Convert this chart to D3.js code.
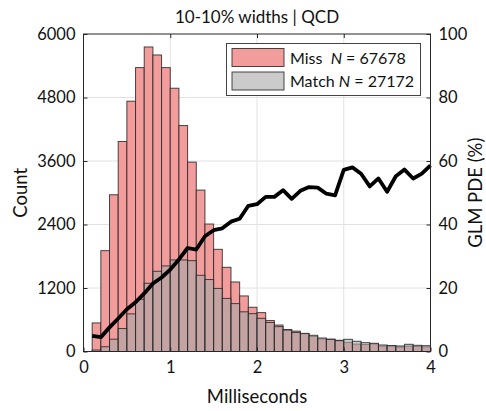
<!DOCTYPE html>
<html>
<head>
<meta charset="utf-8">
<script src="https://cdn.jsdelivr.net/npm/d3@7"></script>
<style>
  html, body { margin: 0; padding: 0; background: #fff; }
  svg { display: block; font-family: Lato, "Noto Sans", sans-serif; }
</style>
</head>
<body>
<svg id="chart" width="486" height="411"></svg>
<script>
// Histogram bins (left edges, ms), each 0.1 ms wide
const binLeft = [0.1,0.2,0.3,0.4,0.5,0.6,0.7,0.8,0.9,1.0,
                 1.1,1.2,1.3,1.4,1.5,1.6,1.7,1.8,1.9,2.0,
                 2.1,2.2,2.3,2.4,2.5,2.6,2.7,2.8,2.9,3.0,
                 3.1,3.2,3.3,3.4,3.5,3.6,3.7,3.8,3.9];
const binWidth = 0.1;

// Counts per bin
const missCounts = [540,1906,2962,3969,4730,5365,5755,5604,5365,4975,
                    4270,3579,3050,2409,1931,1591,1314,1050,836,735,
                    585,500,415,385,335,285,239,233,212,172,
                    140,131,143,102,109,84,101,97,87];
const matchCounts = [28,90,233,434,711,987,1289,1516,1617,1730,
                     1730,1717,1440,1360,1192,1003,905,750,715,627,
                     548,470,406,360,343,306,255,230,205,230,
                     193,167,155,123,110,104,136,117,110];

// GLM PDE (%) curve
const pdeX = [0.1,0.2,0.3,0.4,0.5,0.6,0.7,0.8,0.9,1.0,
              1.1,1.2,1.3,1.4,1.5,1.6,1.7,1.8,1.9,2.0,
              2.1,2.2,2.3,2.4,2.5,2.6,2.7,2.8,2.9,3.0,
              3.1,3.2,3.3,3.4,3.5,3.6,3.7,3.8,3.9,4.0];
const pdeY = [4.9,4.5,7.6,10.4,13.3,15.5,18.3,21.4,23.3,25.8,
              29.0,32.6,32.1,36.3,38.2,38.8,40.9,41.8,45.9,46.4,
              48.7,48.7,50.8,48.1,50.6,51.8,51.6,49.7,49.2,57.2,
              58.0,56.0,52.0,54.5,50.3,55.2,57.3,54.5,56.0,58.6];

// Axis ticks
const xTicks = [0,1,2,3,4];
const yLeftTicks = [0,1200,2400,3600,4800,6000];
const yRightTicks = [0,20,40,60,80,100];

const legendItems = [
  {name: "Miss", sep: "\u00a0\u00a0", n: "67678", cls: "miss"},
  {name: "Match", sep: "\u00a0", n: "27172", cls: "match"}
];

const svg = d3.select("#chart");
const L = 83.5, R = 430.5, T = 34, B = 351.5;

const x = d3.scaleLinear().domain([0, 4]).range([L, R]);
const yL = d3.scaleLinear().domain([0, 6000]).range([B, T]);
const yR = d3.scaleLinear().domain([0, 100]).range([B, T]);

const missFill = "#f39c9c";
const matchFill = "rgba(168,168,168,0.6)";
const barStroke = "rgba(40,40,40,0.85)";
const axisColor = "#262626";

// grid
const grid = svg.append("g");
grid.selectAll("line.gx").data(xTicks.slice(1, -1)).join("line")
  .attr("x1", d => x(d)).attr("x2", d => x(d)).attr("y1", T).attr("y2", B)
  .attr("stroke", "#e2e2e2").attr("stroke-width", 1);
grid.selectAll("line.gy").data(yLeftTicks.slice(1, -1)).join("line")
  .attr("y1", d => yL(d)).attr("y2", d => yL(d)).attr("x1", L).attr("x2", R)
  .attr("stroke", "#e2e2e2").attr("stroke-width", 1);

// bars
function drawBars(counts, fill) {
  svg.append("g").selectAll("rect").data(counts).join("rect")
    .attr("x", (d, i) => x(binLeft[i]))
    .attr("width", (d, i) => x(binLeft[i] + binWidth) - x(binLeft[i]))
    .attr("y", d => yL(d))
    .attr("height", d => yL(0) - yL(d))
    .attr("fill", fill)
    .attr("stroke", barStroke)
    .attr("stroke-width", 1);
}
drawBars(missCounts, missFill);
drawBars(matchCounts, matchFill);

// PDE line
const line = d3.line().x((d, i) => x(pdeX[i])).y(d => yR(d));
svg.append("path").datum(pdeY)
  .attr("d", line)
  .attr("fill", "none").attr("stroke", "#000")
  .attr("stroke-width", 3.8).attr("stroke-linejoin", "round").attr("stroke-linecap", "butt");

// axes
const tickLen = 4;
const axes = svg.append("g");

// bottom
axes.append("g").attr("transform", `translate(0,${B})`)
  .call(d3.axisBottom(x).tickValues(xTicks).tickFormat(d3.format("d")).tickSizeInner(-tickLen).tickSizeOuter(0).tickPadding(10))
  .call(g => g.select(".domain").remove())
  .call(g => g.selectAll("line").attr("stroke", axisColor))
  .call(g => g.selectAll("text").attr("font-size", 16.5).attr("font-family", "Lato").attr("fill", "#111"));
// top ticks
axes.append("g").attr("transform", `translate(0,${T})`)
  .call(d3.axisTop(x).tickValues(xTicks.slice(1, -1)).tickFormat("").tickSizeInner(-tickLen).tickSizeOuter(0))
  .call(g => g.select(".domain").remove())
  .call(g => g.selectAll("line").attr("stroke", axisColor));
// left
axes.append("g").attr("transform", `translate(${L},0)`)
  .call(d3.axisLeft(yL).tickValues(yLeftTicks).tickFormat(d3.format("d")).tickSizeInner(-tickLen).tickSizeOuter(0).tickPadding(8))
  .call(g => g.select(".domain").remove())
  .call(g => g.selectAll("line").attr("stroke", axisColor))
  .call(g => g.selectAll("text").attr("font-size", 16.5).attr("font-family", "Lato").attr("fill", "#111"));
// right
axes.append("g").attr("transform", `translate(${R},0)`)
  .call(d3.axisRight(yR).tickValues(yRightTicks).tickFormat(d3.format("d")).tickSizeInner(-tickLen).tickSizeOuter(0).tickPadding(8))
  .call(g => g.select(".domain").remove())
  .call(g => g.selectAll("line").attr("stroke", axisColor))
  .call(g => g.selectAll("text").attr("font-size", 16.5).attr("font-family", "Lato").attr("fill", "#111"));

// frame
svg.append("rect").attr("x", L).attr("y", T).attr("width", R - L).attr("height", B - T)
  .attr("fill", "none").attr("stroke", axisColor).attr("stroke-width", 1);

// titles
svg.append("text").attr("x", (L + R) / 2).attr("y", 23).attr("text-anchor", "middle")
  .attr("font-size", 17).attr("fill", "#111").text("10-10% widths | QCD");
svg.append("text").attr("x", (L + R) / 2).attr("y", 403).attr("text-anchor", "middle")
  .attr("font-size", 18.5).attr("fill", "#111").text("Milliseconds");
svg.append("text").attr("transform", `translate(27,${(T + B) / 2}) rotate(-90)`)
  .attr("text-anchor", "middle").attr("font-size", 18.5).attr("fill", "#111").text("Count");
svg.append("text").attr("transform", `translate(482,${(T + B) / 2}) rotate(-90)`)
  .attr("text-anchor", "middle").attr("font-size", 18.5).attr("fill", "#111").text("GLM PDE (%)");

// legend
const lg = svg.append("g");
lg.append("rect").attr("x", 226.5).attr("y", 43.5).attr("width", 194).attr("height", 52)
  .attr("fill", "#fff").attr("stroke", "#444").attr("stroke-width", 1);
const rows = lg.selectAll("g.row").data(legendItems).join("g")
  .attr("transform", (d, i) => `translate(232,${48.5 + i * 23.5})`);
rows.append("rect").attr("width", 52).attr("height", 18)
  .attr("fill", d => d.cls === "miss" ? missFill : matchFill)
  .attr("stroke", barStroke).attr("stroke-width", 1);
const txt = rows.append("text").attr("x", 58).attr("y", 15)
  .attr("font-size", 16).attr("fill", "#111");
txt.append("tspan").text(d => d.name + d.sep);
txt.append("tspan").attr("font-style", "italic").text("N");
txt.append("tspan").text(d => "\u00a0=\u00a0" + d.n);
</script>
</body>
</html>
